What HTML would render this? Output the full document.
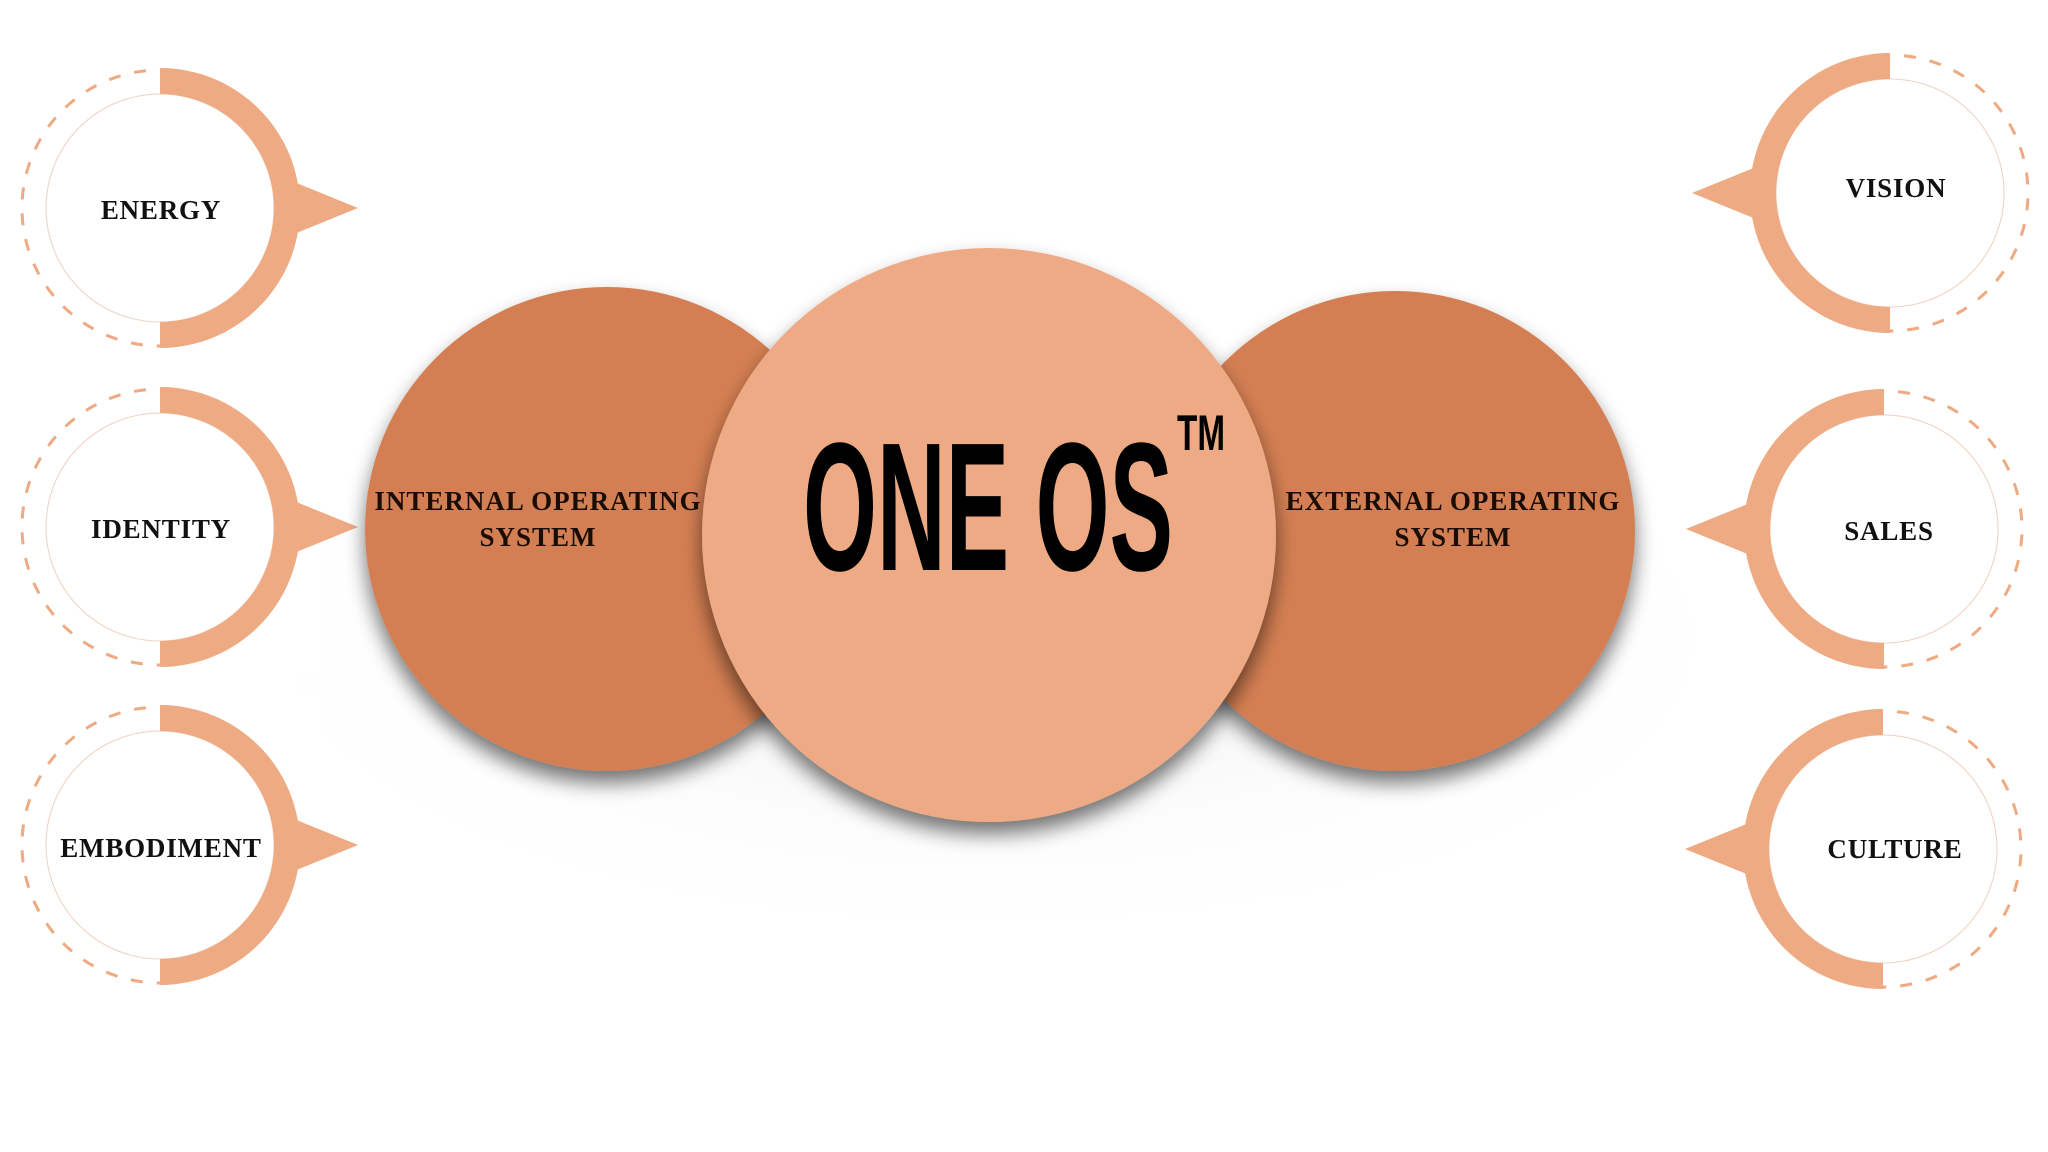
<!DOCTYPE html>
<html><head><meta charset="utf-8"><style>
html,body{margin:0;padding:0;background:#fff;}
svg{display:block;}
.lbl{font-family:"Liberation Serif",serif;font-weight:bold;font-size:27px;letter-spacing:0.8px;fill:#111;}
.sub{font-family:"Liberation Serif",serif;font-weight:bold;font-size:27px;letter-spacing:1px;fill:#1a0d05;}
</style></head><body>
<svg width="2048" height="1152" viewBox="0 0 2048 1152" xmlns="http://www.w3.org/2000/svg">
<defs>
<filter id="sh" x="-30%" y="-30%" width="160%" height="170%">
<feGaussianBlur in="SourceAlpha" stdDeviation="10"/>
<feOffset dx="0" dy="12" result="b"/>
<feComponentTransfer><feFuncA type="linear" slope="0.55"/></feComponentTransfer>
<feMerge><feMergeNode/><feMergeNode in="SourceGraphic"/></feMerge>
</filter>
<radialGradient id="glow" cx="50%" cy="50%" r="50%">
<stop offset="0" stop-color="#e6e6ea" stop-opacity="0.8"/>
<stop offset="1" stop-color="#ffffff" stop-opacity="0"/>
</radialGradient>
<g id="nodeL">
<circle r="138" fill="none" stroke="#EEAA82" stroke-width="3" stroke-dasharray="12 14"/>
<rect x="0" y="-150" width="160" height="300" fill="#fff"/>
<circle r="114" fill="#fff" stroke="#f0d0c0" stroke-width="1"/>
<path d="M0,-140 A140,140 0 0 1 0,140 L0,114 A114,114 0 0 0 0,-114 Z" fill="#EEAA82"/>
<path d="M134,-26 L198,0 L134,26 Z" fill="#EEAA82"/>
</g>
</defs>
<ellipse cx="990" cy="640" rx="800" ry="320" fill="url(#glow)"/>
<use href="#nodeL" x="160" y="208"/>
<use href="#nodeL" x="160" y="527"/>
<use href="#nodeL" x="160" y="845"/>
<g transform="translate(1890,193) scale(-1,1)"><use href="#nodeL"/></g>
<g transform="translate(1884,529) scale(-1,1)"><use href="#nodeL"/></g>
<g transform="translate(1883,849) scale(-1,1)"><use href="#nodeL"/></g>

<text class="lbl" x="161" y="219" text-anchor="middle">ENERGY</text>
<text class="lbl" x="161" y="538" text-anchor="middle">IDENTITY</text>
<text class="lbl" x="161" y="857" text-anchor="middle">EMBODIMENT</text>
<text class="lbl" x="1896" y="197" text-anchor="middle">VISION</text>
<text class="lbl" x="1889" y="540" text-anchor="middle">SALES</text>
<text class="lbl" x="1895" y="858" text-anchor="middle">CULTURE</text>

<circle cx="607" cy="529" r="242" fill="#D47F52" filter="url(#sh)"/>
<circle cx="1395" cy="531" r="240" fill="#D47F52" filter="url(#sh)"/>
<circle cx="989" cy="535" r="287" fill="#EDAA84" filter="url(#sh)"/>

<text class="sub" x="538" y="510" text-anchor="middle">INTERNAL OPERATING</text>
<text class="sub" x="538" y="546" text-anchor="middle">SYSTEM</text>
<text class="sub" x="1453" y="510" text-anchor="middle">EXTERNAL OPERATING</text>
<text class="sub" x="1453" y="546" text-anchor="middle">SYSTEM</text>

<g transform="translate(988,570) scale(1,1.55)">
<text x="0" y="0" text-anchor="middle" font-family="'Liberation Sans Narrow','Liberation Sans',sans-serif" font-weight="bold" font-size="118" fill="#000" textLength="370" lengthAdjust="spacingAndGlyphs">ONE OS</text>
</g>
<g transform="translate(1201,450) scale(1,1.4)">
<text x="0" y="0" text-anchor="middle" font-family="'Liberation Sans Narrow','Liberation Sans',sans-serif" font-weight="bold" font-size="36" fill="#000" textLength="48" lengthAdjust="spacingAndGlyphs">TM</text>
</g>
</svg>
</body></html>
